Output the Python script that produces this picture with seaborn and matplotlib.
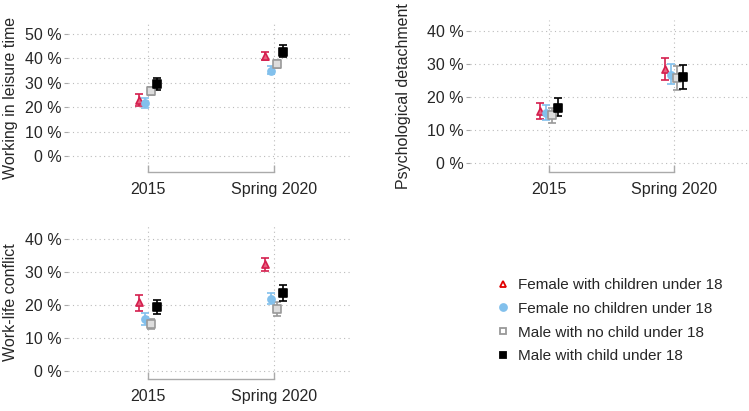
import numpy as np
import matplotlib
matplotlib.use("Agg")
import matplotlib.pyplot as plt
import seaborn as sns
from matplotlib.lines import Line2D

# periods and groups
periods = ["2015", "Spring 2020"]
groups = ["Female with children under 18", "Female no children under 18",
          "Male with no child under 18", "Male with child under 18"]

# estimates and 95% intervals (percent), one row per group, columns = periods
leisure_est = [[23.0, 41.0], [21.7, 35.0], [26.5, 37.5], [29.3, 42.8]]
leisure_lo = [[20.5, 39.5], [19.7, 33.4], [25.0, 36.0], [27.0, 40.5]]
leisure_hi = [[25.5, 42.6], [23.7, 37.0], [28.2, 39.2], [32.0, 45.5]]

detach_est = [[15.8, 28.5], [15.3, 26.8], [14.5, 25.7], [16.8, 26.0]]
detach_lo = [[13.2, 25.0], [13.0, 23.8], [12.2, 22.0], [14.2, 22.5]]
detach_hi = [[18.2, 31.7], [17.7, 30.0], [16.8, 29.5], [19.6, 29.8]]

conflict_est = [[20.8, 32.3], [15.8, 21.8], [14.2, 18.8], [19.3, 23.5]]
conflict_lo = [[18.3, 30.3], [14.0, 20.2], [12.8, 16.8], [17.2, 21.2]]
conflict_hi = [[23.0, 34.2], [17.6, 23.5], [15.8, 21.0], [21.6, 26.0]]

# styling per group
colors = ["#d41f4e", "#82c0ec", "#999999", "#000000"]
markers = ["^", "o", "s", "s"]
faces = ["#e8607f", "#82c0ec", "#dddddd", "#000000"]
offsets = [-0.072, -0.024, 0.024, 0.072]

sns.set_theme(style="white")
plt.rcParams["font.family"] = ["Liberation Sans", "DejaVu Sans"]
plt.rcParams["font.size"] = 11.5

fig = plt.figure(figsize=(7.49, 4.11), dpi=100)
W, H = 749, 411


def px_axes(x0, x1, y0, y1):
    return fig.add_axes([x0 / W, 1 - y1 / H, (x1 - x0) / W, (y1 - y0) / H])


def panel(ax, est, lo, hi, ylabel, ylim, yticks):
    pos = np.arange(len(periods))
    for g in range(len(groups)):
        xs = pos + offsets[g]
        e = np.array(est[g])
        err = [e - np.array(lo[g]), np.array(hi[g]) - e]
        ax.errorbar(xs, e, yerr=err, fmt="none", ecolor=colors[g],
                    elinewidth=1.2, capsize=2.6, capthick=1.2, zorder=3)
        sns.scatterplot(x=xs, y=e, marker=markers[g], color=faces[g],
                        edgecolor=colors[g], linewidth=1.2, s=26,
                        ax=ax, zorder=4, legend=False)
    ax.set_xlim(-0.63, 1.6)
    ax.set_ylim(*ylim)
    ax.set_xticks(pos)
    ax.set_xticklabels(periods, fontsize=11.5)
    ax.set_yticks(yticks)
    ax.set_yticklabels([f"{t} %" for t in yticks], fontsize=11.5)
    ax.grid(True, linestyle=(0, (1, 3)), color="#bbbbbb", linewidth=0.8)
    ax.set_axisbelow(True)
    for s in ["top", "right", "left"]:
        ax.spines[s].set_visible(False)
    ax.spines["bottom"].set_bounds(0, 1)
    ax.spines["bottom"].set_color("#aaaaaa")
    ax.spines["bottom"].set_linewidth(1.0)
    ax.tick_params(axis="x", direction="in", length=5, color="#aaaaaa",
                   width=1.0, pad=7, bottom=True)
    ax.tick_params(axis="y", direction="out", length=3, color="#aaaaaa",
                   width=0.8, pad=1.5, left=True)
    ax.set_ylabel(ylabel, fontsize=11.5)


ax1 = px_axes(68, 350, 23, 172)
panel(ax1, leisure_est, leisure_lo, leisure_hi, "Working in leisure time",
      (-6.6, 54.5), [0, 10, 20, 30, 40, 50])
ax1.yaxis.set_label_coords(-0.178, 0.5)

ax2 = px_axes(470, 749, 20, 172)
panel(ax2, detach_est, detach_lo, detach_hi, "Psychological detachment",
      (-2.7, 43.3), [0, 10, 20, 30, 40])
ax2.yaxis.set_label_coords(-0.213, 0.5)

ax3 = px_axes(68, 350, 225, 379)
panel(ax3, conflict_est, conflict_lo, conflict_hi, "Work-life conflict",
      (-2.4, 44.2), [0, 10, 20, 30, 40])
ax3.yaxis.set_label_coords(-0.178, 0.5)

# legend
legend_faces = ["white", "#82c0ec", "white", "#000000"]
legend_edges = ["#e00000", "#82c0ec", "#999999", "#000000"]
handles = [Line2D([], [], linestyle="none", marker=markers[i],
                  markersize=5, markerfacecolor=legend_faces[i],
                  markeredgecolor=legend_edges[i], markeredgewidth=1.3)
           for i in range(len(groups))]
fig.legend(handles, groups, loc="upper left",
           bbox_to_anchor=(495 / W, 1 - 278 / H), frameon=False,
           fontsize=11, handlelength=1.0, handletextpad=0.5,
           borderpad=0, borderaxespad=0, labelspacing=0.64)

fig.savefig("out.png", dpi=100)
